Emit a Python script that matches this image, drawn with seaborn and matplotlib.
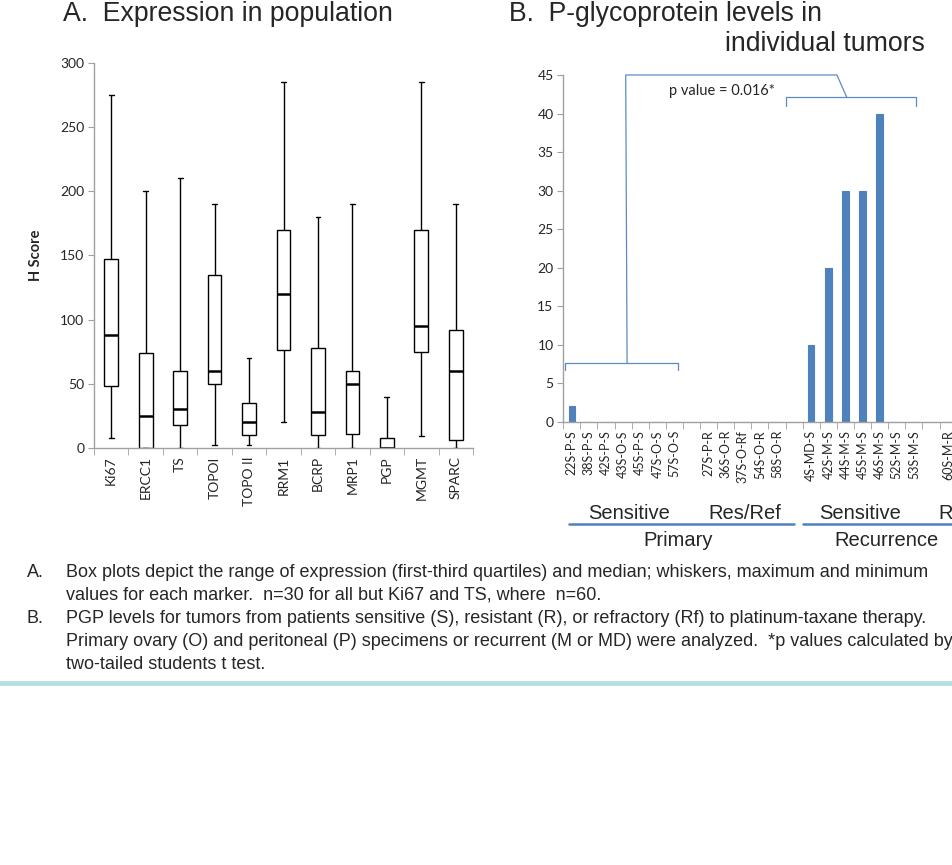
import numpy as np
import pandas as pd
import matplotlib
matplotlib.use('Agg')
from matplotlib import pyplot as plt
from matplotlib.lines import Line2D
import seaborn as sns

# Panel A: five-number summaries (H score)
markers = ['Ki67', 'ERCC1', 'TS', 'TOPOI', 'TOPO II', 'RRM1', 'BCRP',
           'MRP1', 'PGP', 'MGMT', 'SPARC']
h_min = [8, 0, 0, 2, 2, 20, 0, 0, 0, 9, 0]
h_q1 = [48, 0, 18, 50, 10, 76, 10, 11, 0, 75, 6]
h_median = [88, 25, 30, 60, 20, 120, 28, 50, 0, 95, 60]
h_q3 = [147, 74, 60, 135, 35, 170, 78, 60, 8, 170, 92]
h_max = [275, 200, 210, 190, 70, 285, 180, 190, 40, 285, 190]

# Panel B: PGP level per tumor
primary_sens = ['22S-P-S', '38S-P-S', '42S-P-S', '43S-O-S', '45S-P-S', '47S-O-S', '57S-O-S']
primary_res = ['27S-P-R', '36S-O-R', '37S-O-Rf', '54S-O-R', '58S-O-R']
recur_sens = ['4S-MD-S', '42S-M-S', '44S-M-S', '45S-M-S', '46S-M-S', '52S-M-S', '53S-M-S']
recur_res = ['60S-M-R']
pgp_primary_sens = [2, 0, 0, 0, 0, 0, 0]
pgp_primary_res = [0, 0, 0, 0, 0]
pgp_recur_sens = [10, 20, 30, 30, 40, 0, 0]
pgp_recur_res = [0]

# five values per marker -> quartiles fall exactly on them
box_df = pd.DataFrame({
    'marker': np.repeat(markers, 5),
    'hscore': np.column_stack([h_min, h_q1, h_median, h_q3, h_max]).ravel(),
})
bar_df = pd.DataFrame({
    'tumor': primary_sens + primary_res + recur_sens + recur_res,
    'pgp': pgp_primary_sens + pgp_primary_res + pgp_recur_sens + pgp_recur_res,
})
# blank slots between the groups
order = primary_sens + [''] + primary_res + [' '] + recur_sens + ['  '] + recur_res

sns.set_style('white')
plt.rcParams['font.family'] = ['Lato', 'DejaVu Sans']

W, H = 952, 865
fig = plt.figure(figsize=(W / 100, H / 100), dpi=100)


def fx(px):
    return px / W


def fy(py):
    return 1 - py / H


axis_grey = '#A0A0A0'
blue = '#4F81BD'
arial = ['Liberation Sans', 'DejaVu Sans']

# ---- A. box plots
ax1 = fig.add_axes([fx(94), fy(448), fx(473) - fx(94), fy(63) - fy(448)])
sns.boxplot(data=box_df, x='marker', y='hscore', order=markers, whis=(0, 100),
            width=0.4, color='white', linecolor='black', linewidth=1.0,
            medianprops=dict(linewidth=1.8), capwidths=0.14, ax=ax1)
ax1.set_xlim(-0.5, len(markers) - 0.5)
ax1.set_ylim(0, 300)
ax1.set_yticks(range(0, 301, 50))
ax1.set_xticks(np.arange(-0.5, len(markers), 1), minor=True)
ax1.set_xlabel('')
ax1.set_ylabel('H Score', fontsize=10.5, fontweight='bold')
ax1.yaxis.set_label_coords(-0.135, 0.5)

# ---- B. bar chart
slot = 17.1
n_slots = 26
ax2 = fig.add_axes([fx(563.3), fy(421.7), n_slots * slot / W, fy(75) - fy(421.7)])
sns.barplot(data=bar_df, x='tumor', y='pgp', order=order, color=blue, saturation=1,
            width=0.38, edgecolor=blue, linewidth=0.8, errorbar=None, ax=ax2)
ax2.set_xlim(-0.5, n_slots - 0.5)
ax2.set_ylim(0, 45)
ax2.set_yticks(range(0, 46, 5))
ax2.set_xticks(np.arange(-0.5, n_slots, 1), minor=True)
ax2.set_xlabel('')
ax2.set_ylabel('')

for ax, xs in [(ax1, 10), (ax2, 9)]:
    for side in ['top', 'right']:
        ax.spines[side].set_visible(False)
    for side in ['left', 'bottom']:
        ax.spines[side].set_color(axis_grey)
        ax.spines[side].set_linewidth(1.0)
    ax.tick_params(axis='x', which='major', length=0, pad=6, labelrotation=90,
                   labelsize=xs, bottom=True)
    ax.tick_params(axis='x', which='minor', length=5, color=axis_grey, bottom=True)
    ax.tick_params(axis='y', length=4, color=axis_grey, labelsize=10, left=True, pad=3)

# p-value brackets
bl = dict(color='#5B8BC6', lw=0.9, clip_on=False)
ax2.plot([-0.4, -0.4, 6.2, 6.2], [6.7, 7.6, 7.6, 6.7], **bl)
ax2.plot([3.23, 3.15, 15.5, 16.08], [7.6, 45, 45, 42.1], **bl)
ax2.plot([12.5, 12.5, 20.1, 20.1], [41.0, 42.1, 42.1, 41.0], **bl)
ax2.text(8.8, 42.9, 'p value = 0.016*', fontsize=10.5, ha='center', va='center')

# group labels under panel B
gl = dict(fontsize=14.5, family=arial, va='baseline')
fig.text(fx(629), fy(519), 'Sensitive', ha='center', **gl)
fig.text(fx(745), fy(519), 'Res/Ref', ha='center', **gl)
fig.text(fx(860), fy(519), 'Sensitive', ha='center', **gl)
fig.text(fx(938), fy(519), 'Res/Ref', ha='left', **gl)
fig.text(fx(678), fy(546), 'Primary', ha='center', **gl)
fig.text(fx(887), fy(546), 'Recurrence', ha='center', **gl)
fig.add_artist(Line2D([fx(569), fx(794)], [fy(524), fy(524)], color=blue, lw=1.8))
fig.add_artist(Line2D([fx(803), 1.02], [fy(524), fy(524)], color=blue, lw=1.8))

# titles
tl = dict(fontsize=19.2, family=arial, va='baseline')
fig.text(fx(63), fy(21), 'A.  Expression in population', **tl)
fig.text(fx(509), fy(21), 'B.  P-glycoprotein levels in', **tl)
fig.text(fx(725), fy(51), 'individual tumors', **tl)

# caption
cap = dict(fontsize=13, family=arial, va='baseline')
fig.text(fx(27), fy(577), 'A.', **cap)
fig.text(fx(66), fy(577), 'Box plots depict the range of expression (first-third quartiles) and median; '
         'whiskers, maximum and minimum', **cap)
fig.text(fx(66), fy(600), 'values for each marker.  n=30 for all but Ki67 and TS, where  n=60.', **cap)
fig.text(fx(27), fy(623), 'B.', **cap)
fig.text(fx(66), fy(623), 'PGP levels for tumors from patients sensitive (S), resistant (R), or refractory (Rf) '
         'to platinum-taxane therapy.', **cap)
fig.text(fx(66), fy(646), 'Primary ovary (O) and peritoneal (P) specimens or recurrent (M or MD) were analyzed.  '
         '*p values calculated by', **cap)
fig.text(fx(66), fy(669), 'two-tailed students t test.', **cap)
fig.add_artist(Line2D([0, 1], [fy(683), fy(683)], color='#B7DEE3', lw=3.5))

fig.savefig('out.png', dpi=100)
